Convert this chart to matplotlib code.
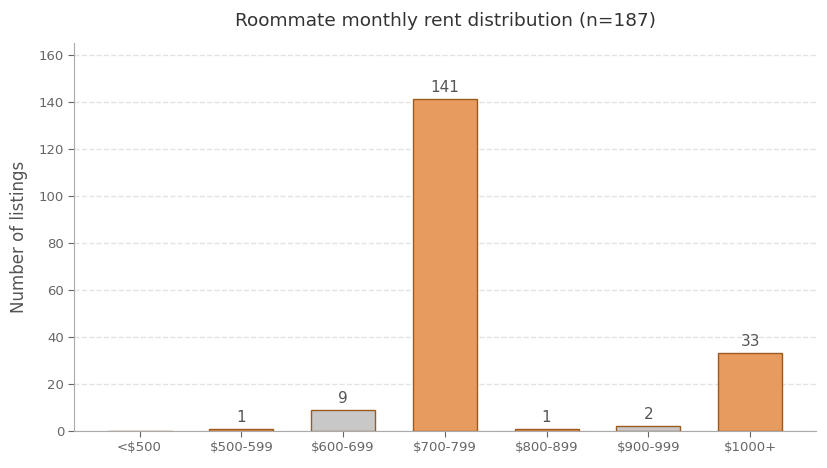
import matplotlib
matplotlib.use("Agg")
import matplotlib.pyplot as plt

# Data
categories = ["<$500", "$500-599", "$600-699", "$700-799", "$800-899", "$900-999", "$1000+"]
counts = [0, 1, 9, 141, 1, 2, 33]
highlight = [True, True, False, True, True, False, True]

ORANGE = "#E89B5E"
GRAY = "#C8C8C8"
EDGE = "#9C5A1E"
TEXT = "#555555"

plt.rcParams.update({
    "font.family": "DejaVu Sans",
    "axes.edgecolor": "#AAAAAA",
})

fig, ax = plt.subplots(figsize=(8.27, 4.68), dpi=100)
fig.subplots_adjust(left=0.09, right=0.987, top=0.908, bottom=0.079)

x = range(len(categories))
colors = [ORANGE if h else GRAY for h in highlight]
bars = ax.bar(x, counts, width=0.63, color=colors, edgecolor=EDGE, linewidth=1.0, zorder=3)

for b, v in zip(bars, counts):
    if v > 0:
        ax.annotate(str(v), (b.get_x() + b.get_width() / 2, v), xytext=(0, 3),
                    textcoords="offset points", ha="center", va="bottom",
                    fontsize=11, color=TEXT)

ax.set_xticks(list(x))
ax.set_xticklabels(categories)
ax.set_xlim(-0.64, 6.65)
ax.set_ylim(0, 165)
ax.set_yticks(range(0, 161, 20))
ax.tick_params(colors="#666666", labelsize=9.5, length=4)

ax.set_ylabel("Number of listings", fontsize=12, color=TEXT, labelpad=8)
ax.set_title("Roommate monthly rent distribution (n=187)", fontsize=13.3, color="#333333", pad=12)

ax.grid(axis="y", linestyle="--", color="#E3E3E3", linewidth=1.0, zorder=0)
ax.set_axisbelow(True)
ax.spines["top"].set_visible(False)
ax.spines["right"].set_visible(False)

fig.savefig("out.png", dpi=100)
